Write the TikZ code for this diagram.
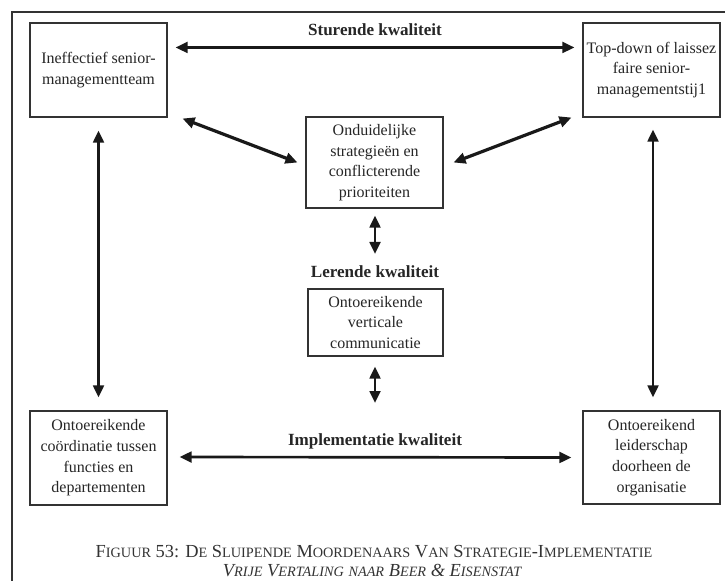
\documentclass[tikz,border=0pt]{standalone}
\usepackage{fontspec}
\setmainfont{Liberation Serif}
\usetikzlibrary{arrows.meta,calc}
\newcommand\smc[1]{{\fontsize{10.7}{12}\selectfont #1}}
\begin{document}
\begin{tikzpicture}[x=0.75pt,y=-0.75pt,
  box/.style={draw=black!80, line width=0.8pt, minimum width=102.75pt, inner sep=0pt,
    align=center, font=\fontsize{12}{15.5}\selectfont, text=black!85},
  conn/.style={line width=2pt, draw=black!90,
    {Triangle[length=9pt,width=8pt]}-{Triangle[length=9pt,width=8pt]}},
  lab/.style={inner sep=0pt, font=\bfseries\fontsize{12.8}{15}\selectfont, text=black!85},
  captext/.style={inner sep=0pt, font=\fontsize{13.8}{15}\selectfont, text=black!80}]
\useasboundingbox (0,0) rectangle (725,581);
\fill[white] (0,0) rectangle (725,581);
% frame
\draw[line width=0.9pt, black!80] (726,12) -- (12,12) -- (12,582);
% boxes
\node[box, minimum height=70.5pt] (A) at (98.5,70) {Ineffectief senior-\\managementteam};
\node[box, minimum height=70.5pt] (B) at (651.5,70) {Top-down of laissez\\faire senior-\\managementstij1};
\node[box, minimum height=68.25pt] (C) at (374.5,162.5) {Onduidelijke\\strategieën en\\conflicterende\\prioriteiten};
\node[box, minimum width=101.25pt, minimum height=50.25pt] (D) at (375.5,322.5) {Ontoereikende\\verticale\\communicatie};
\node[box, minimum height=70.5pt] (E) at (98.5,458) {Ontoereikende\\coördinatie tussen\\functies en\\departementen};
\node[box, minimum height=69.75pt] (F) at (651.5,457.5) {Ontoereikend\\leiderschap\\doorheen de\\organisatie};
% labels
\node[lab] (S) at (375,30) {Sturende kwaliteit};
\node[lab] (L) at (375,272) {Lerende kwaliteit};
\node[lab] (I) at (375,441) {Implementatie kwaliteit};
% free ends
\coordinate (cEnd) at (375,254);
\coordinate (dEnd) at (375,403);
% connectors
\draw[conn] ($(A.north east)+(8,25)$) -- ($(B.north west)+(-8,25)$);
\draw[conn, line width=2.4pt] ($(A.south east)+(15,1)$) -- ($(C.west)+(-8,0)$);
\draw[conn, line width=2.4pt] ($(C.east)+(10,0)$) -- ($(B.south west)+(-11,0)$);
\draw[conn] ($(A.south)+(0,13)$) -- ($(E.north)+(0,-13)$);
\draw[conn] ($(B.south)+(1.5,12)$) -- ($(F.north)+(1.5,-13)$);
\draw[conn] ($(C.south)+(0.5,7)$) -- (cEnd);
\draw[conn] ($(D.south)+(-0.5,10)$) -- (dEnd);
\draw[conn] ($(E.east)+(12,-1)$) -- ($(F.west)+(-11,0)$);
% caption
\node[captext] (cap1) at (374,552) {F\smc{IGUUR} 53: D\smc{E} S\smc{LUIPENDE} M\smc{OORDENAARS} V\smc{AN} S\smc{TRATEGIE}-I\smc{MPLEMENTATIE}};
\node[captext, font=\itshape\fontsize{13.8}{15}\selectfont] (cap2) at (372,571) {V\smc{RIJE} V\smc{ERTALING} \smc{NAAR} B\smc{EER} \& E\smc{ISENSTAT}};
\end{tikzpicture}
\end{document}
